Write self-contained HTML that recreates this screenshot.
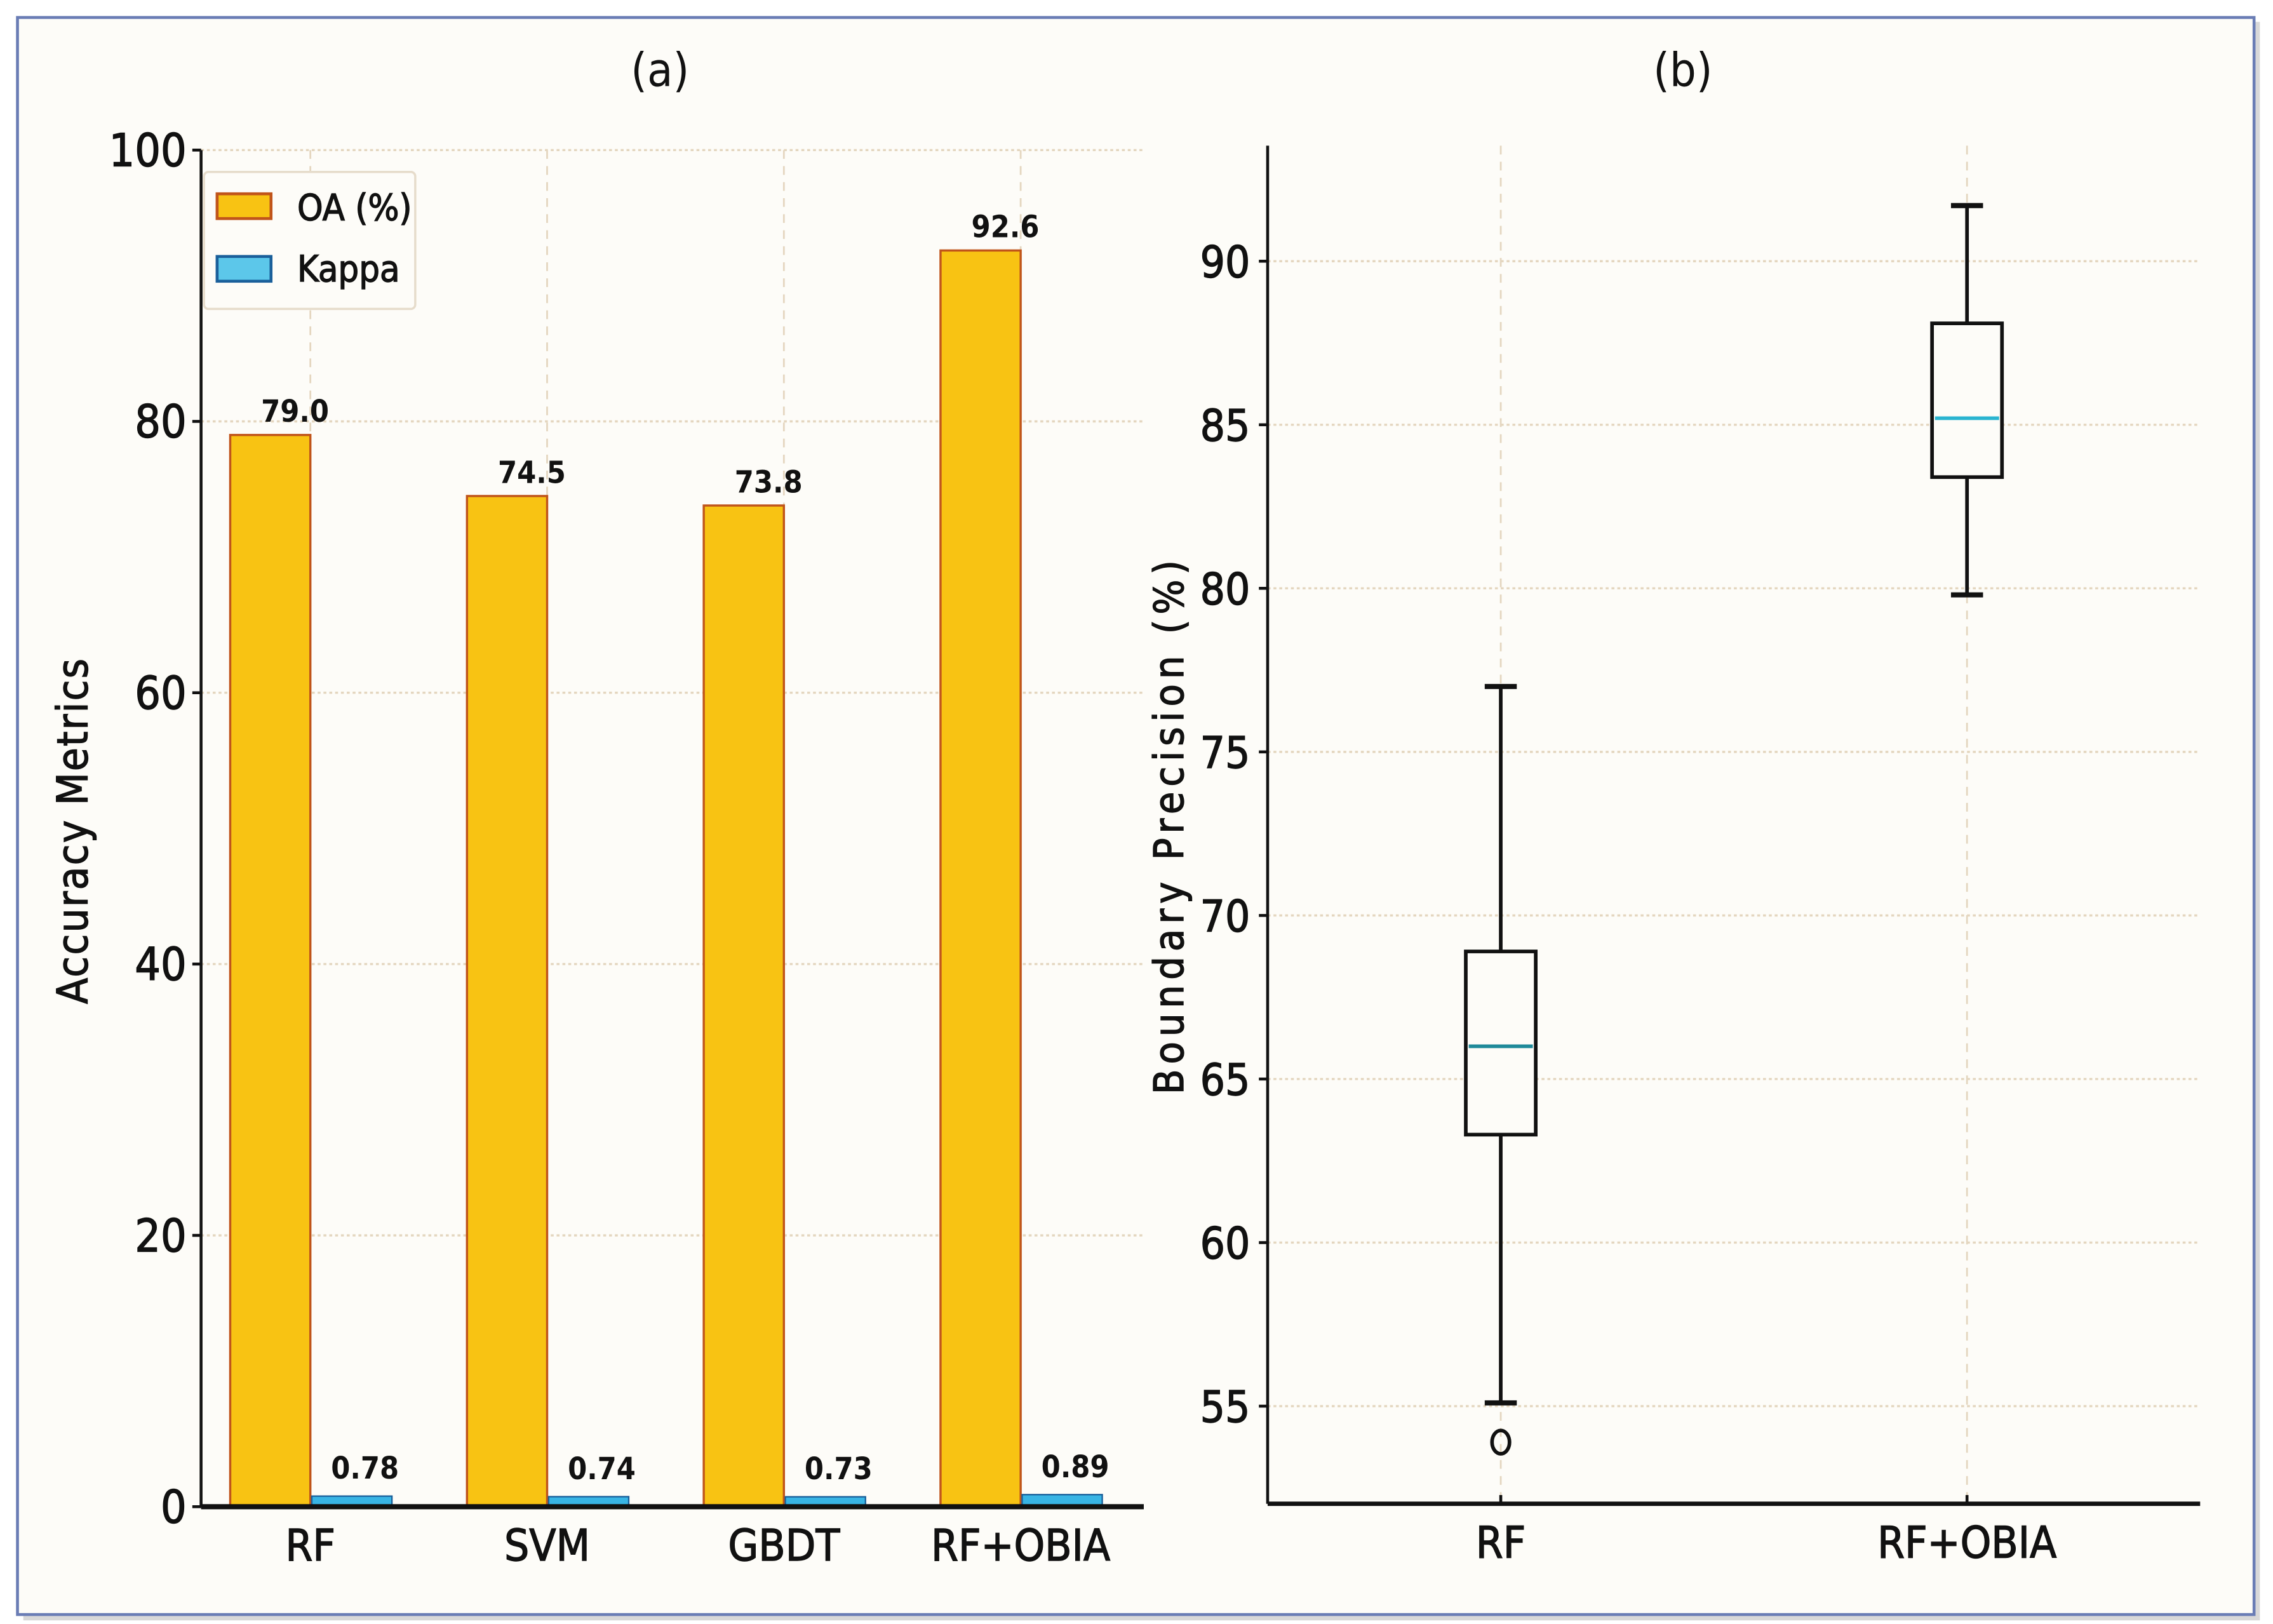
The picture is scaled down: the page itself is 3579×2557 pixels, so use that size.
<!DOCTYPE html>
<html><head><meta charset="utf-8"><style>
html,body{margin:0;padding:0;background:#fff;}
svg{display:block;}
text{font-family:"DejaVu Sans Condensed","DejaVu Sans","Liberation Sans",sans-serif;fill:#111;}
.tk{stroke:#111;stroke-width:0.6;}
</style></head><body>
<svg id="fig" width="3579" height="2557" viewBox="0 0 1560 1114.5" preserveAspectRatio="none" xmlns="http://www.w3.org/2000/svg">
<rect x="0" y="0" width="1560" height="1114.5" fill="#ffffff"/>
<rect x="16" y="15" width="1535" height="1097" fill="#d8d8d8"/>
<rect x="12" y="12" width="1535" height="1096" fill="#fdfcf8" stroke="#6a7db5" stroke-width="2"/>
<text x="453" y="59" font-size="32" text-anchor="middle" font-family="Liberation Serif,serif">(a)</text>
<text x="1155" y="59" font-size="32" text-anchor="middle" font-family="Liberation Serif,serif">(b)</text>
<g id="chartA"></g>
<g id="chartB"></g>
</svg>
<script>
const categoriesA = ["RF","SVM","GBDT","RF+OBIA"];
const oaValues = [79.0, 74.5, 73.8, 92.6];
const kappaValues = [0.78, 0.74, 0.73, 0.89];
const yTicksA = [0,20,40,60,80,100];

const categoriesB = ["RF","RF+OBIA"];
const whiskerLow = [55.1, 79.8];
const q1Values = [63.3, 83.4];
const medianValues = [66.0, 85.2];
const q3Values = [68.9, 88.1];
const whiskerHigh = [77.0, 91.7];
const outlierValues = [[53.9], []];
const yTicksB = [55,60,65,70,75,80,85,90];

const NS="http://www.w3.org/2000/svg";
function mk(parent,tag,attrs,txt){const e=document.createElementNS(NS,tag);for(const k in attrs)e.setAttribute(k,attrs[k]);if(txt!==undefined)e.textContent=txt;parent.appendChild(e);return e;}

// ---- Chart A ----
(function(){
const g=document.getElementById('chartA');
const x0=138,x1=785,yTop=103,yBot=1034;
const yA=v=>yBot-(v/100)*(yBot-yTop);
const xA=i=>213+i*162.5;
const bw=55;
yTicksA.forEach(t=>{
  if(t>0){const l=mk(g,'line',{x1:x0,x2:x1,y1:yA(t),y2:yA(t),stroke:'#e4d6bf','stroke-width':1.5,'stroke-dasharray':'2 2'});
  
  }
  const tk=mk(g,'line',{x1:x0-6,x2:x0,y1:yA(t),y2:yA(t),stroke:'#111','stroke-width':2});
  
  
  const tl=mk(g,'text',{x:x0-10,y:yA(t)+11,'font-size':31,'text-anchor':'end','class':'tk'},String(t));
  
  
});
categoriesA.forEach((c,i)=>{
  const gl=mk(g,'line',{x1:xA(i),x2:xA(i),y1:yTop,y2:yBot,stroke:'#e4d6bf','stroke-width':1.2,'stroke-dasharray':'6 5'});
  
  
});
categoriesA.forEach((c,i)=>{
  const cx=xA(i);
  const b=mk(g,'rect',{x:cx-bw,y:yA(oaValues[i]),width:bw,height:yBot-yA(oaValues[i]),fill:'#f8c313',stroke:'#c0541a','stroke-width':1.5});
  
  
  const k=mk(g,'rect',{x:cx+1,y:yA(kappaValues[i]),width:bw,height:Math.max(yBot-yA(kappaValues[i]),3),fill:'#38b4e4',stroke:'#1a5f9a','stroke-width':1});
  
  
  const lo=mk(g,'text',{x:cx-bw/2+17,y:yA(oaValues[i])-9,'font-size':21,'font-weight':'bold','text-anchor':'middle'},oaValues[i].toFixed(1));
  
  
  const lk=mk(g,'text',{x:cx+bw/2+10,y:yA(kappaValues[i])-12,'font-size':21,'font-weight':'bold','text-anchor':'middle'},kappaValues[i].toFixed(2));
  
  
  const xl=mk(g,'text',{x:cx,y:1071,'font-size':30,'text-anchor':'middle','class':'tk'},c);
  
  
});
const ya=mk(g,'line',{x1:x0,x2:x0,y1:yTop,y2:yBot,stroke:'#111','stroke-width':2});


const xa=mk(g,'line',{x1:x0,x2:x1,y1:yBot,y2:yBot,stroke:'#111','stroke-width':3.5});


const yt=mk(g,'text',{x:0,y:0,'font-size':29,'text-anchor':'middle','letter-spacing':'1','class':'tk',transform:'translate(60,570) rotate(-90)'},'Accuracy Metrics');


// legend
const lg=mk(g,'g',{});


mk(lg,'rect',{x:140,y:118,width:145,height:94,fill:'#fdfcf8',stroke:'#e6dccb','stroke-width':1.5,rx:3});
const s1=mk(lg,'rect',{x:149,y:133,width:37,height:17,fill:'#f8c313',stroke:'#c0541a','stroke-width':2});


const t1=mk(lg,'text',{x:204,y:151,'font-size':25,'class':'tk'},'OA (%)');


const s2=mk(lg,'rect',{x:149,y:176,width:37,height:17,fill:'#5cc7ea',stroke:'#1a5f9a','stroke-width':2});


const t2=mk(lg,'text',{x:204,y:193,'font-size':25,'class':'tk'},'Kappa');


})();

// ---- Chart B ----
(function(){
const g=document.getElementById('chartB');
const x0=870,x1=1510,yTop=100,yBot=1032;
const yB=v=>965-(v-55)*22.45;
const xB=i=>1030+i*320;
const bw=48,cw=22;
yTicksB.forEach(t=>{
  const l=mk(g,'line',{x1:x0,x2:x1,y1:yB(t),y2:yB(t),stroke:'#e4d6bf','stroke-width':1.5,'stroke-dasharray':'2 2'});
  
  
  const tk=mk(g,'line',{x1:x0-6,x2:x0,y1:yB(t),y2:yB(t),stroke:'#111','stroke-width':2});
  
  
  const tl=mk(g,'text',{x:x0-12,y:yB(t)+11,'font-size':30,'text-anchor':'end','class':'tk'},String(t));
  
  
});
categoriesB.forEach((c,i)=>{
  const cx=xB(i);
  const gl=mk(g,'line',{x1:cx,x2:cx,y1:yTop,y2:yBot,stroke:'#e4d6bf','stroke-width':1.2,'stroke-dasharray':'6 5'});
  
  
  const bx=mk(g,'g',{});
  
  
  mk(bx,'line',{x1:cx,x2:cx,y1:yB(whiskerHigh[i]),y2:yB(q3Values[i]),stroke:'#111','stroke-width':2.5});
  mk(bx,'line',{x1:cx,x2:cx,y1:yB(q1Values[i]),y2:yB(whiskerLow[i]),stroke:'#111','stroke-width':2.5});
  mk(bx,'line',{x1:cx-cw/2,x2:cx+cw/2,y1:yB(whiskerHigh[i]),y2:yB(whiskerHigh[i]),stroke:'#111','stroke-width':3.5});
  mk(bx,'line',{x1:cx-cw/2,x2:cx+cw/2,y1:yB(whiskerLow[i]),y2:yB(whiskerLow[i]),stroke:'#111','stroke-width':3.5});
  mk(bx,'rect',{x:cx-bw/2,y:yB(q3Values[i]),width:bw,height:yB(q1Values[i])-yB(q3Values[i]),fill:'#fdfcf8',stroke:'#111','stroke-width':2.5});
  const md=mk(bx,'line',{x1:cx-bw/2+2,x2:cx+bw/2-2,y1:yB(medianValues[i]),y2:yB(medianValues[i]),stroke:i==0?'#1f8a9a':'#2ab4d0','stroke-width':2.5});
  
  
  outlierValues[i].forEach(v=>{
    const o=mk(g,'ellipse',{cx:cx,cy:yB(v),rx:6,ry:8,fill:'none',stroke:'#111','stroke-width':2.5});
    
    
  });
  const tk=mk(g,'line',{x1:cx,x2:cx,y1:yBot-6,y2:yBot,stroke:'#111','stroke-width':2});
  
  
  const xl=mk(g,'text',{x:cx,y:1069,'font-size':30,'text-anchor':'middle','class':'tk'},c);
  
  
});
const ya=mk(g,'line',{x1:x0,x2:x0,y1:yTop,y2:yBot,stroke:'#111','stroke-width':2});


const xa=mk(g,'line',{x1:x0,x2:x1,y1:yBot,y2:yBot,stroke:'#111','stroke-width':3});


const yt=mk(g,'text',{x:0,y:0,'font-size':28,'text-anchor':'middle','letter-spacing':'3.5','class':'tk',transform:'translate(812,566) rotate(-90)'},'Boundary Precision (%)');


})();
</script>
</body></html>
